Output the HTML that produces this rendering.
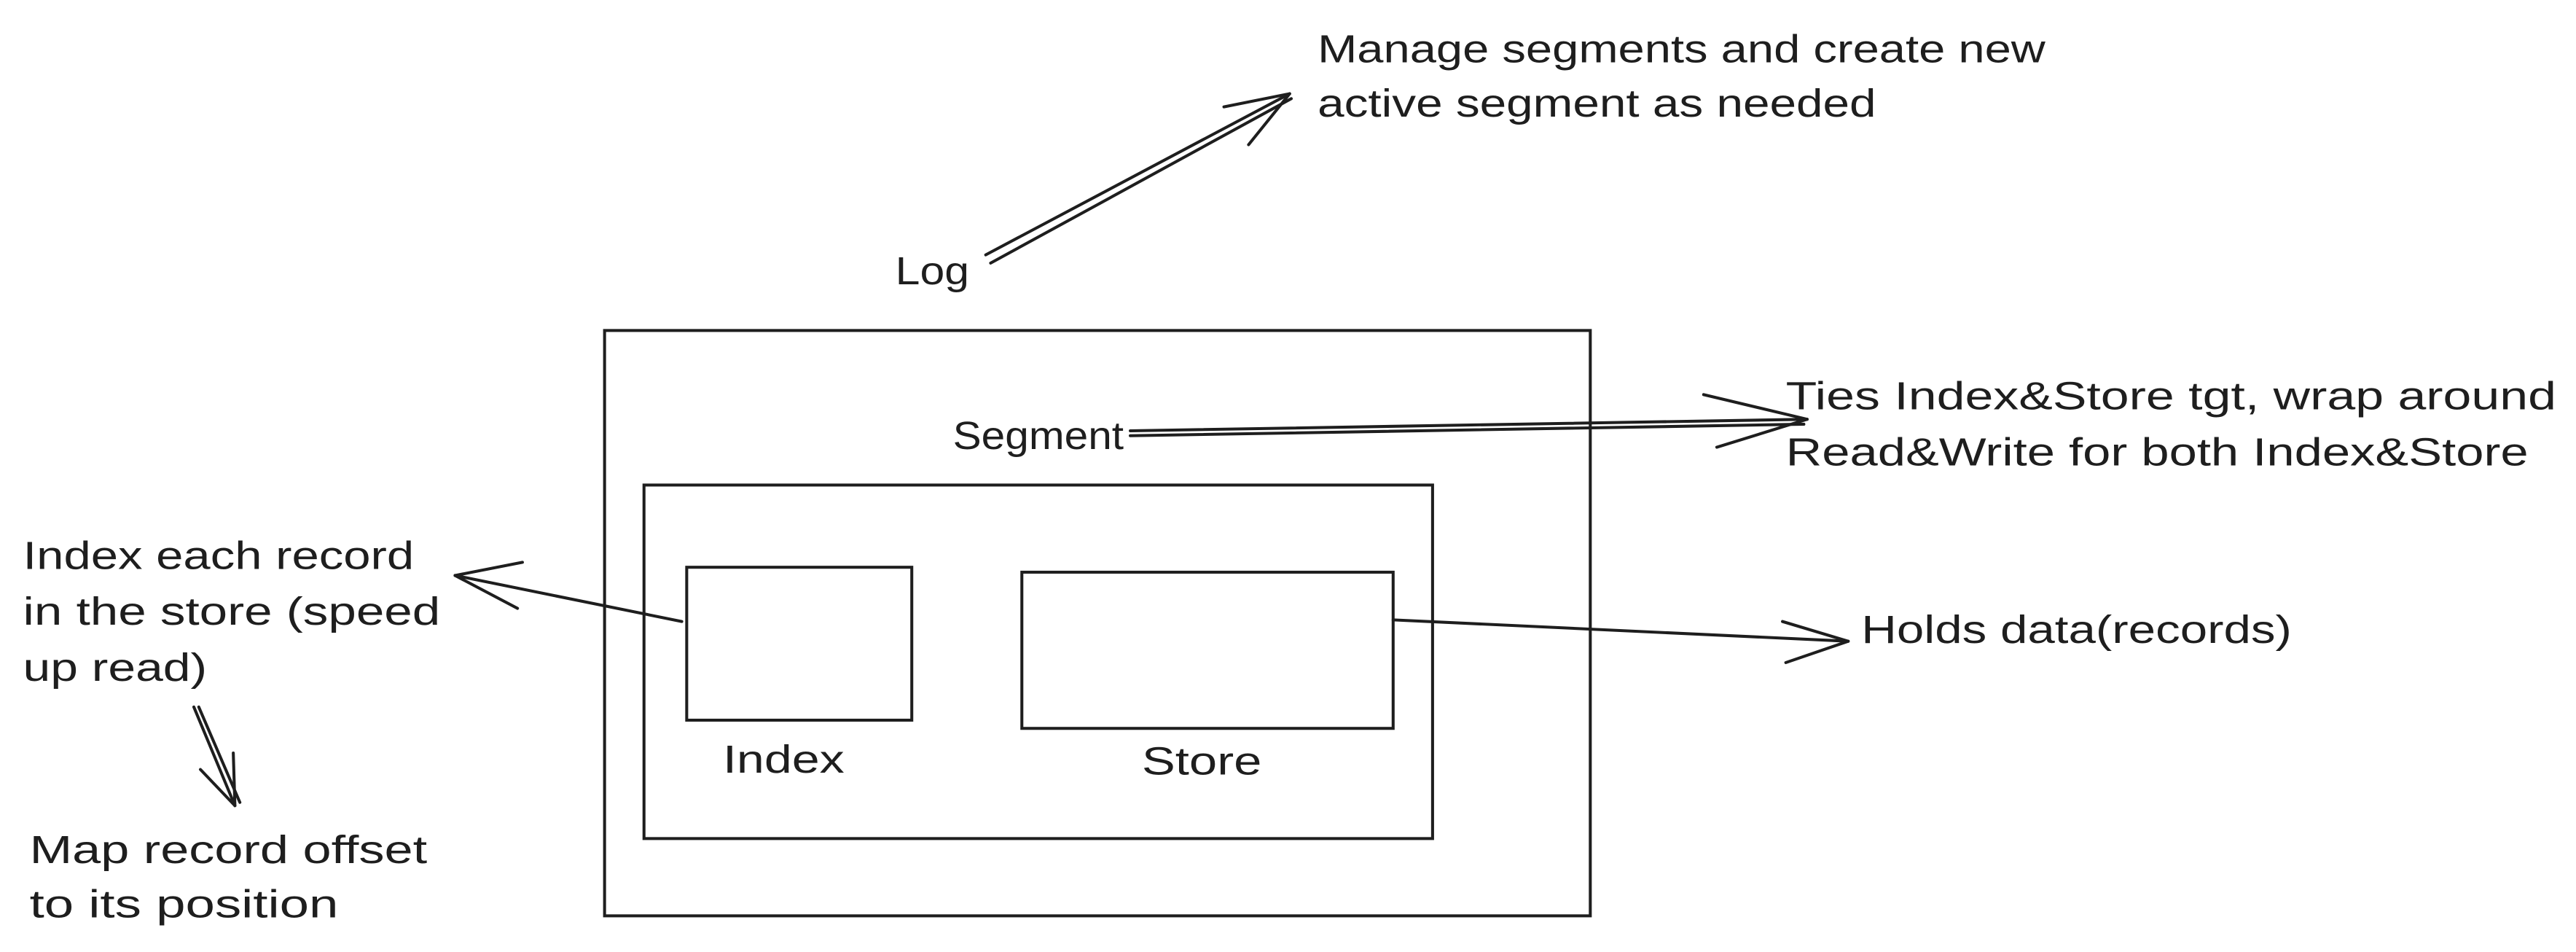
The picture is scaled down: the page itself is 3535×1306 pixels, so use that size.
<!DOCTYPE html>
<html><head><meta charset="utf-8"><style>
html,body{margin:0;padding:0;background:#fff;}
svg{display:block;}
text{font-family:"Liberation Sans",sans-serif;font-size:24px;fill:#1e1e1e;}
</style></head><body>
<svg width="3535" height="1306" viewBox="0 0 1568 579" preserveAspectRatio="none" xmlns="http://www.w3.org/2000/svg">
<g fill="none" stroke="#1e1e1e" stroke-width="1.8" stroke-linecap="round">
<rect x="368" y="201" width="600" height="356"/>
<rect x="392" y="295" width="480" height="215"/>
<rect x="418" y="345" width="137" height="93"/>
<rect x="622" y="348" width="226" height="95"/>
<!-- Log arrow -->
<path d="M600 155 L785 57 M603 160 L786 60"/>
<path d="M785 57 L745 65 M785 57 L760 88"/>
<!-- Segment arrow -->
<path d="M688 262 L1100 255 M688 265 L1098 258"/>
<path d="M1100 255 L1037 240 M1100 255 L1045 272"/>
<!-- index arrow -->
<path d="M415 378 L277 350"/>
<path d="M277 350 L318 342 M277 350 L315 370"/>
<!-- down arrow -->
<path d="M118 430 L143 490 M121 430 L146 488"/>
<path d="M143 490 L142 458 M143 490 L122 468"/>
<!-- store arrow -->
<path d="M848 377 L1125 390"/>
<path d="M1125 390 L1085 378 M1125 390 L1087 403"/>
</g>
<text x="802" y="38" textLength="443" lengthAdjust="spacingAndGlyphs">Manage segments and create new</text>
<text x="802" y="71" textLength="340" lengthAdjust="spacingAndGlyphs">active segment as needed</text>
<text x="545" y="173" textLength="45" lengthAdjust="spacingAndGlyphs">Log</text>
<text x="580" y="273" textLength="104" lengthAdjust="spacingAndGlyphs">Segment</text>
<text x="1087" y="249" textLength="469" lengthAdjust="spacingAndGlyphs">Ties Index&amp;Store tgt, wrap around</text>
<text x="1087" y="283" textLength="452" lengthAdjust="spacingAndGlyphs">Read&amp;Write for both Index&amp;Store</text>
<text x="14" y="346" textLength="238" lengthAdjust="spacingAndGlyphs">Index each record</text>
<text x="14" y="380" textLength="254" lengthAdjust="spacingAndGlyphs">in the store (speed</text>
<text x="14" y="414" textLength="112" lengthAdjust="spacingAndGlyphs">up read)</text>
<text x="18" y="525" textLength="242" lengthAdjust="spacingAndGlyphs">Map record offset</text>
<text x="18" y="558" textLength="188" lengthAdjust="spacingAndGlyphs">to its position</text>
<text x="440" y="470" textLength="74" lengthAdjust="spacingAndGlyphs">Index</text>
<text x="695" y="471" textLength="73" lengthAdjust="spacingAndGlyphs">Store</text>
<text x="1133" y="391" textLength="262" lengthAdjust="spacingAndGlyphs">Holds data(records)</text>
</svg>
</body></html>
